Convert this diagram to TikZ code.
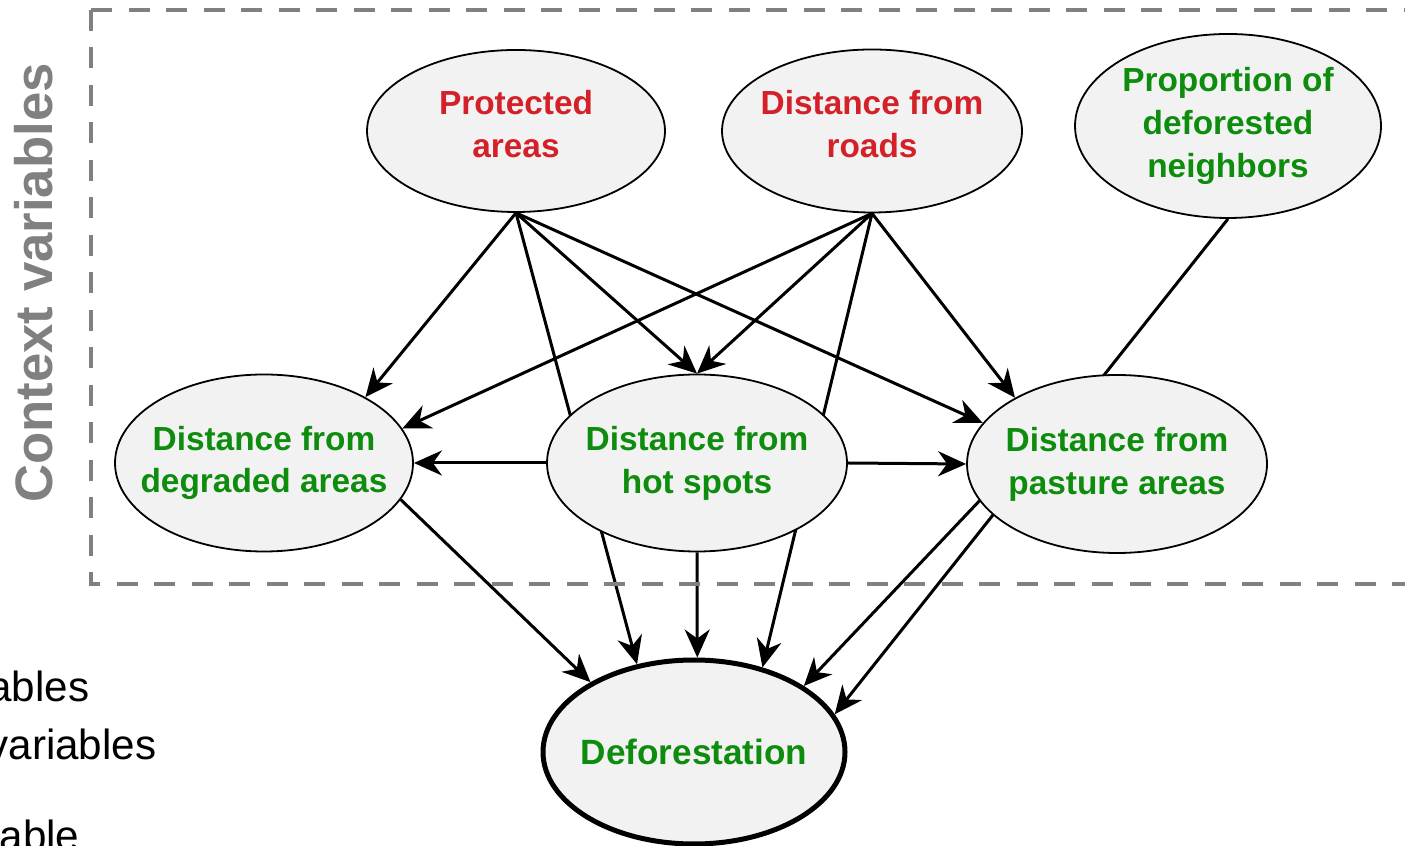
\documentclass[tikz,border=0pt]{standalone}
\usepackage{fontspec}
\setmainfont{Liberation Sans}
\usetikzlibrary{shapes.geometric,arrows.meta,backgrounds}
\definecolor{ctxgray}{rgb}{0.5, 0.5, 0.5}
\definecolor{varred}{rgb}{0.83, 0.13, 0.16}
\definecolor{vargreen}{rgb}{0.05, 0.55, 0.05}
\definecolor{nodefill}{rgb}{0.95, 0.95, 0.95}
\tikzset{>={Stealth[length=2.8mm,width=2.5mm,inset=0.9mm]},
   every edge/.style={draw,->,line width=0.3mm}
 }

\begin{document}
\begin{tikzpicture}[x=0.1mm,y=-0.1mm]
  \tikzstyle{graph_node}=[ellipse,draw,line width=0.18mm,fill=nodefill,inner xsep=-6mm,inner ysep=-4mm,
     align=center,font=\bfseries\fontsize{9.5}{12.2}\selectfont]
  \tikzstyle{legend_text}=[anchor=base east,inner sep=0pt,font=\fontsize{12}{14}\selectfont]
  \useasboundingbox (0,0) rectangle (1405,846);
  \clip (0,0) rectangle (1405,846);
  % context variables
  \node[graph_node, text=varred, text depth=1.4mm, minimum width=29.8mm, minimum height=16.2mm] (prot) at (516,131) {Protected\\areas};
  \node[graph_node, text=varred, text depth=1.4mm, minimum width=30mm, minimum height=16.3mm] (road) at (872,131) {Distance from\\roads};
  \node[graph_node, text=vargreen, minimum width=30.6mm, minimum height=18.4mm] (prop) at (1228,126) {Proportion of\\deforested\\neighbors};
  \node[graph_node, text=vargreen, minimum width=29.8mm, minimum height=17.7mm] (degr) at (264,463) {Distance from\\degraded areas};
  \node[graph_node, text=vargreen, minimum width=30mm, minimum height=17.7mm] (hot) at (697,463) {Distance from\\hot spots};
  \node[graph_node, text=vargreen, minimum width=30mm, minimum height=17.8mm] (past) at (1117,464) {Distance from\\pasture areas};
  % target
  \node[graph_node, text=vargreen, line width=0.5mm, minimum width=30.2mm, minimum height=18.4mm,
     font=\bfseries\fontsize{10}{12}\selectfont] (defo) at (694,752) {Deforestation};
  \begin{pgfonlayer}{background}
    \path (prot.south) edge (degr.33)
                       edge (hot.north)
                       edge (past.163)
                       edge (defo.123);
    \path (road.south) edge (degr.14)
                       edge (hot.north)
                       edge (past.147)
                       edge (defo.51);
    \path (hot.west) edge (degr.east);
    \path (hot.east) edge (past.west);
    \path (hot.south) edge (defo.88);
    \path (degr.-15) edge (defo.146);
    \path (past.195) edge (defo.31);
    \path (prop.south) edge (defo.15);
  \end{pgfonlayer}
  % box
  \draw[ctxgray, line width=0.45mm, dash pattern=on 2.1mm off 1.65mm] (91,10) rectangle (1440,584);
  \node[rotate=90, text=ctxgray, inner sep=0pt, font=\bfseries\fontsize{15}{18}\selectfont] (ctx) at (34,283) {Context variables};
  % legend
  \node[legend_text] (leg1) at (90,702) {ables};
  \node[legend_text] (leg2) at (157,760) {variables};
  \node[legend_text] (leg3) at (80,850) {able};
\end{tikzpicture}
\end{document}
